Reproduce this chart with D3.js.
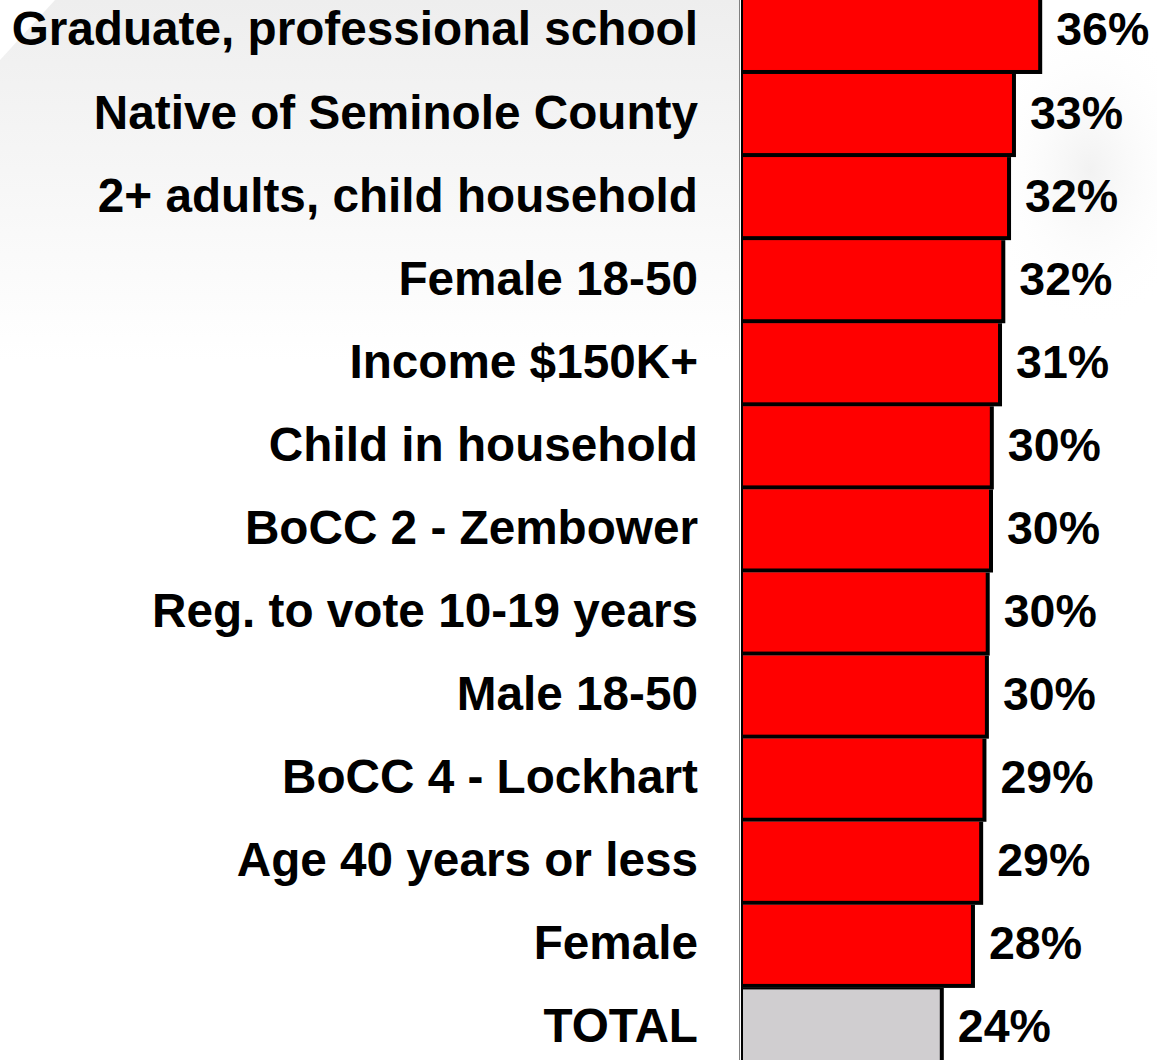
<!DOCTYPE html>
<html>
<head>
<meta charset="utf-8">
<script src="https://cdn.jsdelivr.net/npm/d3@7"></script>
<style>
  html, body { margin: 0; padding: 0; background: #fff; }
  svg { display: block; }
  text { font-family: "Liberation Sans", Arial, sans-serif; font-weight: bold; fill: #000; }
</style>
</head>
<body>
<script>
const categories = [
  "Graduate, professional school",
  "Native of Seminole County",
  "2+ adults, child household",
  "Female 18-50",
  "Income $150K+",
  "Child in household",
  "BoCC 2 - Zembower",
  "Reg. to vote 10-19 years",
  "Male 18-50",
  "BoCC 4 - Lockhart",
  "Age 40 years or less",
  "Female",
  "TOTAL"
];
const values = [36.0, 32.8, 32.2, 31.5, 31.1, 30.1, 30.0, 29.6, 29.5, 29.2, 28.8, 27.8, 24.0];
const totalCategory = "TOTAL";

const W = 1157, H = 1060;
const svg = d3.select("body").append("svg").attr("width", W).attr("height", H);

// faint watermark background
const defs = svg.append("defs");
const g1 = defs.append("linearGradient").attr("id", "wm").attr("x1", 0).attr("y1", 0).attr("x2", 0).attr("y2", 1);
g1.append("stop").attr("offset", "0%").attr("stop-color", "#eeeeee");
g1.append("stop").attr("offset", "100%").attr("stop-color", "#ffffff");
const g3 = defs.append("radialGradient").attr("id", "wm3");
g3.append("stop").attr("offset", "0%").attr("stop-color", "#f2f2f2");
g3.append("stop").attr("offset", "100%").attr("stop-color", "#ffffff").attr("stop-opacity", 0);

svg.append("rect").attr("x", 0).attr("y", 0).attr("width", W).attr("height", H).attr("fill", "#fff");
svg.append("path").attr("d", "M0,60 L55,0 L740,0 L740,360 L0,360 Z").attr("fill", "url(#wm)");
svg.append("ellipse").attr("cx", 1090).attr("cy", 170).attr("rx", 110).attr("ry", 160).attr("fill", "url(#wm3)");

const x = d3.scaleLinear().domain([0, 50]).range([743, 1153]);
const y = d3.scaleBand().domain(categories).range([-9.1, 1071]).paddingInner(0).paddingOuter(0);
const bw = y.bandwidth();
const sh = 4;

const rows = svg.append("g").selectAll("g").data(categories).join("g")
  .attr("transform", d => `translate(0,${y(d)})`);

// shadow / border
rows.append("rect")
  .attr("x", x(0))
  .attr("y", 0)
  .attr("width", (d, i) => x(values[i]) - x(0) + sh)
  .attr("height", bw)
  .attr("fill", "#000");

rows.append("rect")
  .attr("x", x(0))
  .attr("y", d => d === totalCategory ? 1.5 : 0)
  .attr("width", (d, i) => x(values[i]) - x(0))
  .attr("height", d => d === totalCategory ? bw - sh - 1.5 : bw - sh)
  .attr("fill", d => d === totalCategory ? "#d0ced0" : "#ff0000");

// category labels
rows.append("text")
  .attr("x", 698)
  .attr("y", (bw - sh) / 2 + 15)
  .attr("text-anchor", "end")
  .style("font-size", "47.7px")
  .text(d => d);

// value labels
rows.append("text")
  .attr("x", (d, i) => x(values[i]) + sh + 14)
  .attr("y", (bw - sh) / 2 + 15)
  .style("font-size", "46.5px")
  .text((d, i) => Math.round(values[i]) + "%");

// axis lines
svg.append("line").attr("x1", 739.5).attr("x2", 739.5).attr("y1", 0).attr("y2", H)
  .attr("stroke", "#808080").attr("stroke-width", 1);
svg.append("line").attr("x1", 742).attr("x2", 742).attr("y1", 0).attr("y2", H)
  .attr("stroke", "#000").attr("stroke-width", 2);
</script>
</body>
</html>
